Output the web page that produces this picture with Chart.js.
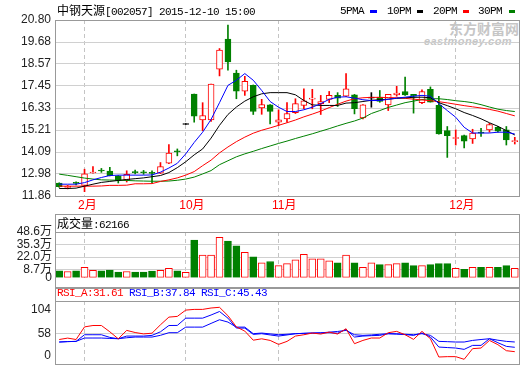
<!DOCTYPE html>
<html><head><meta charset="utf-8">
<script src="https://cdn.jsdelivr.net/npm/chart.js@4.4.1/dist/chart.umd.min.js"></script>
<style>
html,body{margin:0;padding:0;background:#fff;}
#wrap{position:relative;width:520px;height:365px;overflow:hidden;background:#fff;}
canvas{position:absolute;left:0;z-index:1;}
.t{position:absolute;white-space:nowrap;font-size:11px;font-family:'Liberation Mono','Noto Sans CJK SC',monospace;letter-spacing:-0.6px;line-height:14px;color:#000;z-index:3;}
.c{font-family:'Noto Sans CJK SC';font-size:12px;letter-spacing:0;}
.frame{position:absolute;border:1px solid #999;box-sizing:border-box;z-index:2;}
.sep{position:absolute;left:55px;width:465px;height:1px;background:#999;z-index:2;}
.dash{position:absolute;top:10px;height:3px;z-index:3;}
.wm{position:absolute;z-index:0;color:#c6c6c6;white-space:nowrap;}
</style></head>
<body><div id="wrap">
<div class="wm" style="left:449px;top:19px;font:bold 14px 'Noto Sans CJK SC';line-height:18px;">东方财富网</div>
<div class="wm" style="left:424px;top:35px;font:bold italic 11px 'Liberation Sans';line-height:12px;letter-spacing:0.4px;">eastmoney.com</div>

<canvas id="main" width="520" height="214" style="top:0px"></canvas>
<canvas id="vol" width="520" height="74" style="top:214px"></canvas>
<canvas id="rsi" width="520" height="77" style="top:288px"></canvas>

<div class="frame" style="left:55px;top:20px;width:465px;height:177px;"></div>
<div class="frame" style="left:55px;top:214px;width:465px;height:74px;"></div>
<div class="sep" style="top:232px;"></div>
<div class="frame" style="left:55px;top:288px;width:465px;height:77px;"></div>
<div class="sep" style="top:301px;"></div>

<div class="t" style="left:57px;top:3px;"><span class="c">中钢天源</span>[002057] 2015-12-10 15:00</div>
<div class="t" style="left:340px;top:4px;">5PMA</div><div class="dash" style="left:370px;width:7px;background:#0000ff"></div>
<div class="t" style="left:387px;top:4px;">10PM</div><div class="dash" style="left:417px;width:6px;background:#000"></div>
<div class="t" style="left:433px;top:4px;">20PM</div><div class="dash" style="left:463px;width:6px;background:#ff0000"></div>
<div class="t" style="left:478px;top:4px;">30PM</div><div class="dash" style="left:509px;width:6px;background:#008000"></div>
<div class="t" style="left:57px;top:216px;"><span class="c">成交量</span>:62166</div>
<div class="t" style="left:57px;top:286px;"><span style="color:#ff0000">RSI_A:31.61</span> <span style="color:#0000ff">RSI_B:37.84 RSI_C:45.43</span></div>
</div>
<script>
// ---------- data ----------
const DATES = ["2015-01-28","2015-01-29","2015-01-30",
"2015-02-02","2015-02-03","2015-02-04","2015-02-05","2015-02-06","2015-02-09","2015-02-10","2015-02-11","2015-02-12","2015-02-13","2015-02-16","2015-02-17",
"2015-10-16","2015-10-19","2015-10-20","2015-10-21","2015-10-22","2015-10-23","2015-10-26","2015-10-27","2015-10-28","2015-10-29","2015-10-30",
"2015-11-02","2015-11-03","2015-11-04","2015-11-05","2015-11-06","2015-11-09","2015-11-10","2015-11-11","2015-11-12","2015-11-13","2015-11-16","2015-11-17","2015-11-18","2015-11-19","2015-11-20","2015-11-23","2015-11-24","2015-11-25","2015-11-26","2015-11-27","2015-11-30",
"2015-12-01","2015-12-02","2015-12-03","2015-12-04","2015-12-07","2015-12-08","2015-12-09","2015-12-10"];
const OPEN  = [12.51,12.30,12.52,12.40,13.03,13.15,13.13,12.89,12.66,13.07,13.06,13.03,13.02,13.53,14.12,15.49,17.04,15.73,15.73,18.30,19.83,18.11,17.19,17.48,16.34,16.49,15.61,15.78,16.09,16.46,16.78,16.55,16.77,16.97,16.93,17.00,15.83,16.83,16.88,16.49,17.00,17.17,17.02,16.60,17.28,16.46,15.18,14.78,14.93,14.76,15.08,15.22,15.35,15.22,14.62];
const HIGH  = [12.53,12.40,12.58,13.22,13.36,13.26,13.31,12.90,13.14,13.18,13.16,13.14,13.56,14.47,14.25,15.49,17.04,16.60,17.55,19.35,20.54,18.25,17.94,17.50,16.77,16.50,16.24,16.60,16.80,17.31,17.28,16.97,17.17,17.11,18.08,17.02,16.51,17.11,17.22,17.02,17.43,17.90,17.02,17.25,17.40,16.92,15.39,15.22,14.95,15.25,15.30,15.55,15.40,15.39,14.84];
const LOW   = [12.30,12.22,12.42,12.08,13.02,13.06,12.88,12.52,12.57,12.98,12.96,12.52,13.00,13.50,13.90,15.49,15.61,15.18,15.65,17.96,18.25,16.80,16.97,16.00,16.01,15.52,15.44,15.61,16.05,16.29,16.29,16.00,16.60,16.41,16.90,16.03,15.78,16.37,16.62,16.20,16.93,16.97,16.07,16.55,16.63,15.00,13.82,14.45,14.30,14.53,14.89,15.10,15.10,14.45,14.50];
const CLOSE = [12.34,12.34,12.50,12.98,13.05,13.13,12.89,12.65,12.96,13.05,13.04,13.01,13.36,14.04,14.10,15.49,15.91,15.95,17.55,19.27,18.67,17.19,17.68,16.15,16.51,16.15,15.73,16.05,16.55,16.70,16.82,16.66,16.97,16.83,17.31,16.29,16.49,16.83,16.66,17.02,17.09,17.00,16.93,17.17,16.63,15.01,14.93,14.81,14.64,15.06,15.05,15.49,15.15,14.71,14.64];
const MA5   = [12.46,12.46,12.46,12.54,12.68,12.80,12.90,12.92,12.92,12.92,12.92,12.93,13.07,13.28,13.52,14.00,14.58,15.10,15.75,16.60,17.48,17.74,18.08,17.74,17.22,16.66,16.37,16.15,16.15,16.24,16.37,16.55,16.77,16.88,16.90,16.83,16.75,16.71,16.71,16.77,16.83,16.88,16.93,16.97,16.93,16.55,16.20,15.86,15.35,15.06,15.06,15.06,15.10,15.10,15.01];
const MA10  = [12.24,12.24,12.26,12.36,12.46,12.55,12.60,12.65,12.70,12.74,12.78,12.84,12.90,13.05,13.30,13.60,13.95,14.25,14.80,15.45,16.00,16.38,16.68,16.90,17.05,17.11,17.11,17.11,17.00,16.71,16.49,16.46,16.46,16.46,16.58,16.60,16.66,16.72,16.75,16.78,16.82,16.85,16.87,16.88,16.85,16.60,16.45,16.29,16.10,15.95,15.78,15.58,15.40,15.18,14.96];
const MA20  = [12.36,12.36,12.36,12.36,12.36,12.37,12.40,12.40,12.41,12.48,12.48,12.49,12.60,12.68,12.78,12.92,13.10,13.40,13.68,14.05,14.35,14.62,14.85,15.05,15.20,15.32,15.45,15.58,15.72,15.88,16.02,16.17,16.35,16.52,16.68,16.80,16.85,16.87,16.87,16.86,16.85,16.82,16.78,16.74,16.70,16.65,16.59,16.52,16.45,16.39,16.33,16.26,16.17,16.05,15.93];
const MA30  = [12.97,12.91,12.84,12.77,12.72,12.68,12.67,12.66,12.65,12.63,12.62,12.61,12.61,12.62,12.66,12.72,12.82,12.98,13.15,13.45,13.65,13.85,14.00,14.13,14.27,14.40,14.53,14.65,14.78,14.90,15.02,15.15,15.28,15.42,15.55,15.67,15.82,16.05,16.20,16.36,16.48,16.60,16.68,16.76,16.80,16.80,16.76,16.70,16.66,16.60,16.50,16.38,16.27,16.20,16.15];
const VOLUME = [7.3,6.7,7.3,11,8,7.3,8.3,6,6.7,6,6,7,8,10,7.3,5.7,40,24,24,43,39,34,27,22.3,16,17.3,13,15,19,25,20,20,18,16,24,16,11,16,14,14,15,16,13,13,14,15,15,10,9,11,11,11,11,13,10];
const RSI_A = [49,51,49,67,69,69,60,50,62,59,57,58,70,81,82,91,92,92,94,95,83,67,61,48,50,47.7,42,46.3,53.9,55.8,58.2,56.8,59.6,56.8,64.4,43,47.7,51.1,51.1,58.7,60.6,55.8,49.2,60.6,50.1,24,24.5,24.5,20.7,35.9,36.8,47.7,41.6,33,31.61];
const RSI_B = [45.4,46,46.3,55.8,55.8,55.8,52,50.1,53.9,53.9,53.9,54.9,60,69,69.1,79.5,79.5,79.5,84,89,79.5,65.3,65.3,56.3,57.3,55.5,53.9,55.5,57.3,57.8,58.2,58.4,58.7,58,63.4,52.5,53.9,54.5,54.9,57.3,56.8,56,54.9,58.2,52.5,38.2,37.5,36.8,34.9,40.6,40.6,50.1,44.4,39.2,37.84];
const RSI_C = [45.4,46,46.3,51.1,51.1,51.1,50.5,50.1,51.5,52.5,52.5,52.5,55,58.7,58.7,66.7,66.7,66.7,72,77.2,73.9,66.7,66.7,57.3,58.2,57,55.8,56.5,57.3,57.8,58.2,58.5,59.5,60.5,62,55.8,54.9,55.5,56.5,57.3,57,56.5,55.8,57.3,54.9,46.3,45.9,45.4,45.4,47.7,49,50.1,48,46.3,45.43];
const PRICE_TICKS = [11.86,12.98,14.09,15.21,16.33,17.45,18.57,19.68,20.80];
const VOLUME_TICKS = [0,8.7,22.0,35.3,48.6];
const RSI_TICKS = [104,58,0];

// ---------- helpers ----------
const RED='#ff0000', GREEN='#008000', BLACK='#000000', BLUE='#0000ff';
const GRID='#d0d0d0', VGRID='#c4c4c4';
const N = DATES.length;
const idx = [...Array(N).keys()];
const month = i => parseInt(DATES[i].slice(5,7),10);
const isMonthStart = i => i>0 && month(i)!==month(i-1);
const candleColor = i => CLOSE[i]>OPEN[i]?RED:(CLOSE[i]<OPEN[i]?GREEN:BLACK);
const volUp = i => CLOSE[i]>=OPEN[i];

const xGrid = {offset:false, drawTicks:false, lineWidth:1, color:c=> (c.index!==undefined && isMonthStart(c.index)) ? VGRID : 'rgba(0,0,0,0)'};
const xBorder = {display:false, dash:[4,3]};
const base = {responsive:false, animation:false, events:[], devicePixelRatio:1,
  plugins:{legend:{display:false}, tooltip:{enabled:false}}};
Chart.defaults.font.family = "'Liberation Sans','Noto Sans CJK SC',sans-serif";

// ---------- main price chart ----------
new Chart(document.getElementById('main'), {
  type:'bar',
  data:{labels:DATES, datasets:[
    {type:'line', data:MA5, borderColor:BLUE, borderWidth:1, pointRadius:0, tension:0, order:0},
    {type:'line', data:MA10, borderColor:BLACK, borderWidth:1, pointRadius:0, tension:0, order:0},
    {type:'line', data:MA20, borderColor:RED, borderWidth:1, pointRadius:0, tension:0, order:0},
    {type:'line', data:MA30, borderColor:GREEN, borderWidth:1, pointRadius:0, tension:0, order:0},
    {type:'bar', data:idx.map(i=>[OPEN[i],CLOSE[i]]), grouped:false, barThickness:6, minBarLength:1,
      backgroundColor:idx.map(i=>CLOSE[i]>OPEN[i]?'#ffffff':candleColor(i)),
      borderColor:idx.map(candleColor), borderWidth:1, borderSkipped:false, order:1},
    {type:'bar', data:idx.map(i=>[LOW[i],HIGH[i]]), grouped:false, barThickness:1, minBarLength:1,
      backgroundColor:idx.map(candleColor), borderWidth:0, order:2}
  ]},
  options:{...base,
    layout:{padding:{top:20,right:1,left:0,bottom:0}},
    scales:{
      x:{offset:true, grid:xGrid, border:xBorder,
         afterFit:s=>{s.height=18;},
         ticks:{autoSkip:false, maxRotation:0, minRotation:0, align:'start', labelOffset:-6.5, padding:2,
           color:RED, font:{size:12},
           callback:(v,i)=> isMonthStart(i) ? (month(i)+'月') : ''}},
      y:{min:PRICE_TICKS[0], max:PRICE_TICKS[PRICE_TICKS.length-1],
         afterBuildTicks:s=>{s.ticks=PRICE_TICKS.map(v=>({value:v}));},
         afterFit:s=>{s.width=55;},
         grid:{color:GRID, drawTicks:false}, border:{display:false},
         ticks:{padding:4, color:'#222', font:{size:12}, callback:v=>Number(v).toFixed(2)}}
    }}
});

// ---------- volume chart ----------
new Chart(document.getElementById('vol'), {
  type:'bar',
  data:{labels:DATES, datasets:[
    {data:VOLUME, barThickness:7, backgroundColor:idx.map(i=>volUp(i)?'#ffffff':GREEN),
     borderColor:idx.map(i=>volUp(i)?RED:GREEN), borderWidth:1, borderSkipped:false}
  ]},
  options:{...base,
    layout:{padding:{top:18,right:1,left:0,bottom:8}},
    scales:{
      x:{offset:true, grid:xGrid, border:xBorder, ticks:{display:false}, afterFit:s=>{s.height=0;}},
      y:{min:0, max:VOLUME_TICKS[VOLUME_TICKS.length-1],
         afterBuildTicks:s=>{s.ticks=VOLUME_TICKS.map(v=>({value:v}));},
         afterFit:s=>{s.width=55;},
         grid:{drawTicks:false, color:c=>(c.tick && c.tick.value>0 && c.tick.value<48.6)?GRID:'rgba(0,0,0,0)'},
         border:{display:false},
         ticks:{autoSkip:false, padding:3, color:'#222', font:{size:12, family:"'Liberation Sans Narrow','Liberation Sans','Noto Sans CJK SC'"},
           callback:v=> v===0 ? '0' : Number(v).toFixed(1)+'万'}}
    }}
});

// ---------- RSI chart ----------
const rsiLabels = {id:'rsiLabels', afterDraw(chart){
  const s=chart.scales.y, a=chart.chartArea, ctx=chart.ctx;
  ctx.save(); ctx.font="12px 'Liberation Sans'"; ctx.fillStyle='#222';
  ctx.textAlign='right'; ctx.textBaseline='middle';
  RSI_TICKS.forEach(v=>{ let y=s.getPixelForValue(v); y=Math.min(Math.max(y,a.top+9),a.bottom-8); ctx.fillText(String(v), a.left-4, y); });
  ctx.restore();
}};
new Chart(document.getElementById('rsi'), {
  type:'line',
  data:{labels:DATES, datasets:[
    {data:RSI_A, borderColor:RED, borderWidth:1, pointRadius:0, tension:0},
    {data:RSI_B, borderColor:BLUE, borderWidth:1, pointRadius:0, tension:0},
    {data:RSI_C, borderColor:BLUE, borderWidth:1, pointRadius:0, tension:0}
  ]},
  plugins:[rsiLabels],
  options:{...base,
    layout:{padding:{top:13,right:1,left:0,bottom:1}},
    scales:{
      x:{offset:true, grid:xGrid, border:xBorder, ticks:{display:false}, afterFit:s=>{s.height=0;}},
      y:{min:14, max:104,
         afterBuildTicks:s=>{s.ticks=[{value:58}];},
         afterFit:s=>{s.width=55;},
         grid:{color:GRID, drawTicks:false}, border:{display:false},
         ticks:{display:false}}
    }}
});
</script>
</body></html>
